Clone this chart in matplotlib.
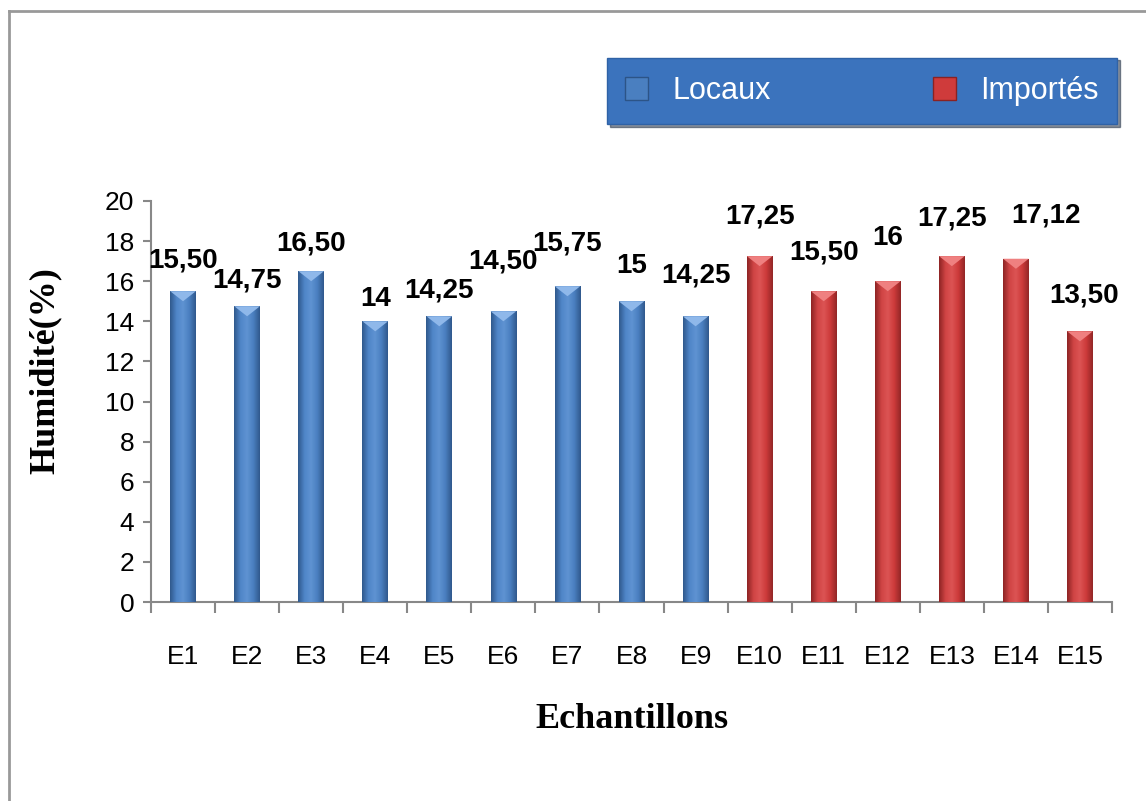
import numpy as np
import matplotlib
matplotlib.use('Agg')
import matplotlib.pyplot as plt
from matplotlib.patches import Patch
from matplotlib.lines import Line2D
from matplotlib.colors import LinearSegmentedColormap

# donnees
echantillons = ['E1', 'E2', 'E3', 'E4', 'E5', 'E6', 'E7', 'E8', 'E9',
                'E10', 'E11', 'E12', 'E13', 'E14', 'E15']
humidite = [15.50, 14.75, 16.50, 14.00, 14.25, 14.50, 15.75, 15.00, 14.25,
            17.25, 15.50, 16.00, 17.25, 17.12, 13.50]
etiquettes = ['15,50', '14,75', '16,50', '14', '14,25', '14,50', '15,75', '15', '14,25',
              '17,25', '15,50', '16', '17,25', '17,12', '13,50']
groupe = ['Locaux'] * 9 + ['Importés'] * 6

# decalage des etiquettes (pixels), places a la main comme dans l'original
decal_y = [18, 13, 15, 9, 13, 37, 30, 22, 28, 27, 26, 30, 25, 30, 23]
decal_x = [0, 0, 0, 0, 0, 0, 0, 0, 0, 0, 0, 0, 0, 30, 4]

couleurs = {'Locaux': '#4a7fc0', 'Importés': '#cf3b3b'}
degrades = {
    'Locaux': ['#30598d', '#4f86c8', '#5f93d2', '#4a7fc0', '#30598d'],
    'Importés': ['#8e2424', '#d04444', '#dc5454', '#cc3a3a', '#932727'],
}

W, H = 1146, 801
fig = plt.figure(figsize=(W / 100, H / 100), dpi=100)
ax = fig.add_axes([151 / W, 1 - 602 / H, 961 / W, 401 / H])

x = np.arange(len(echantillons))
largeur = 0.4
bars = ax.bar(x, humidite, width=largeur, color=[couleurs[g] for g in groupe],
              edgecolor='none', zorder=2)

# effet cylindre : degrade horizontal dans chaque barre
for b, g in zip(bars, groupe):
    cmap = LinearSegmentedColormap.from_list(g, degrades[g])
    grad = np.linspace(0, 1, 64).reshape(1, -1)
    x0, w, h = b.get_x(), b.get_width(), b.get_height()
    im = ax.imshow(grad, cmap=cmap, aspect='auto', extent=[x0, x0 + w, 0, h], zorder=3)
    im.set_clip_path(b)
    # petit triangle clair sur le dessus
    clair = '#8fb8ea' if g == 'Locaux' else '#ef8080'
    ax.fill([x0, x0 + w, x0 + w / 2], [h, h, h - 0.5], color=clair, zorder=4, lw=0)

for xi, v, lab, dx, dy in zip(x, humidite, etiquettes, decal_x, decal_y):
    ax.annotate(lab, (xi, v), xytext=(dx, dy), textcoords='offset pixels',
                ha='center', va='bottom', fontsize=20, fontweight='bold',
                family=['Liberation Sans', 'DejaVu Sans'], color='black')

ax.set_xlim(-0.5, len(echantillons) - 0.5)
ax.set_ylim(0, 20)
ax.set_yticks(np.arange(0, 21, 2))
ax.set_xticks(x)
ax.set_xticklabels(echantillons)
ax.set_xticks(np.arange(-0.5, len(echantillons), 1), minor=True)
ax.tick_params(axis='x', which='major', length=0, pad=31)
ax.tick_params(axis='x', which='minor', length=8, width=1.5, color='#888888')
ax.tick_params(axis='y', length=6, width=1.5, color='#888888', pad=6)
for lab in ax.get_xticklabels() + ax.get_yticklabels():
    lab.set_family(['Liberation Sans Narrow', 'Liberation Sans', 'DejaVu Sans'])
    lab.set_fontsize(19)

for s in ['top', 'right']:
    ax.spines[s].set_visible(False)
for s in ['left', 'bottom']:
    ax.spines[s].set_color('#888888')
    ax.spines[s].set_linewidth(1.5)

fig.text(45 / W, 1 - 371 / H, 'Humidité(%)', rotation=90, ha='center', va='center',
         fontsize=26, fontweight='bold', family=['Liberation Serif', 'DejaVu Serif'])
fig.text(632 / W, 1 - 720 / H, 'Echantillons', ha='center', va='center',
         fontsize=26, fontweight='bold', family=['Liberation Serif', 'DejaVu Serif'])

# legende
handles = [Patch(facecolor=couleurs['Locaux'], edgecolor='#2c5487', label='Locaux'),
           Patch(facecolor=couleurs['Importés'], edgecolor='#8a2222', label='Importés')]
leg = fig.legend(handles=handles, loc='center left', ncol=2,
                 bbox_to_anchor=(607 / W, 1 - 125 / H, 510 / W, 68 / H), mode='expand',
                 frameon=True, fancybox=False, facecolor='#3b73bd', edgecolor='#2f62a6',
                 framealpha=1, labelcolor='white', handlelength=0.75, handleheight=0.8,
                 handletextpad=0.8, columnspacing=4.5, borderaxespad=0, borderpad=0.6,
                 prop={'family': ['Liberation Sans Narrow', 'Liberation Sans', 'DejaVu Sans'], 'size': 22},
                 shadow=True)

# bordure de la zone graphique
fig.add_artist(Line2D([9 / W, 1], [1 - 11 / H, 1 - 11 / H], color='#999999', lw=2))
fig.add_artist(Line2D([9 / W, 9 / W], [0, 1 - 11 / H], color='#999999', lw=2))

fig.savefig('out.png', dpi=100)
